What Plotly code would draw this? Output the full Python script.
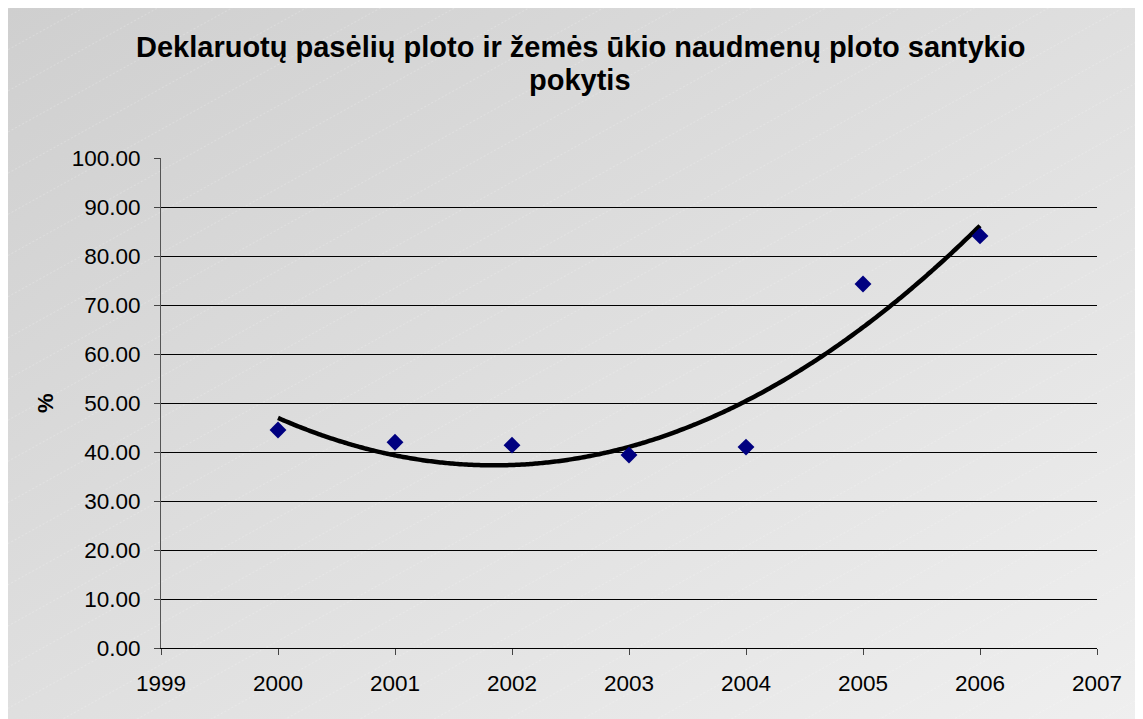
import base64
import numpy as np
import plotly.graph_objects as go

years = [2000, 2001, 2002, 2003, 2004, 2005, 2006]
values = [44.5, 42.0, 41.4, 39.4, 41.0, 74.3, 84.1]
y_ticks = [0, 10, 20, 30, 40, 50, 60, 70, 80, 90, 100]
y_tick_labels = [f"{v:.2f}" for v in y_ticks]
x_ticks = list(range(1999, 2008))
title_line1 = "Deklaruotų pasėlių ploto ir žemės ūkio naudmenų ploto santykio"
title_line2 = "pokytis"
y_title = "%"

# Polynomial (order 2) trendline fitted to the data
coef = np.polyfit(np.array(years) - 2000, values, 2)
tx = np.linspace(2000, 2006, 200)
ty = np.polyval(coef, tx - 2000)

OFF = 8  # default page body margin
W, H = 1143 - OFF, 719 - OFF
L, R, T, B = 161 - OFF, 46, 158 - OFF, 71
pw, ph = W - L - R, H - T - B

def px_x(page_x):
    return (page_x - OFF - L) / pw

def px_y(page_y):
    return (H - B - (page_y - OFF)) / ph

bw, bh = W, H
svg = f'''<svg xmlns="http://www.w3.org/2000/svg" width="{bw}" height="{bh}" viewBox="0 0 {bw} {bh}" preserveAspectRatio="none">
<defs>
<linearGradient id="g" x1="0" y1="0" x2="1" y2="1">
<stop offset="0" stop-color="#cfcfcf"/>
<stop offset="1" stop-color="#efefef"/>
</linearGradient>
<pattern id="p" patternUnits="userSpaceOnUse" width="68" height="36" patternTransform="rotate(-29)">
<line x1="0" y1="0" x2="68" y2="0" stroke="#ffffff" stroke-opacity="0.4" stroke-width="1" stroke-dasharray="2,2"/>
</pattern>
</defs>
<rect width="{bw}" height="{bh}" fill="url(#g)"/>
<rect width="{bw}" height="{bh}" fill="url(#p)"/>
</svg>'''
src = "data:image/svg+xml;base64," + base64.b64encode(svg.encode()).decode()

fig = go.Figure()
fig.add_trace(go.Scatter(x=tx, y=ty, mode="lines",
                         line=dict(color="black", width=4.5, shape="spline"), hoverinfo="skip"))
fig.add_trace(go.Scatter(x=years, y=values, mode="markers",
                         marker=dict(symbol="diamond", size=13, color="#000080")))

font_family = "Liberation Sans, Arial, sans-serif"
title_font = dict(size=29, family=font_family, color="black")
fig.update_layout(
    width=W, height=H,
    margin=dict(l=L, r=R, t=T, b=B),
    paper_bgcolor="white",
    plot_bgcolor="rgba(0,0,0,0)",
    showlegend=False,
    font=dict(family=font_family, size=22.5, color="black"),
    images=[dict(source=src, xref="paper", yref="paper",
                 x=-L / pw, y=(H - B) / ph,
                 sizex=bw / pw, sizey=bh / ph,
                 xanchor="left", yanchor="top", sizing="stretch", layer="below")],
    annotations=[
        dict(text="<b>" + title_line1 + "</b>", xref="paper", yref="paper",
             x=px_x(580), y=px_y(47), xanchor="center", yanchor="middle",
             showarrow=False, font=title_font),
        dict(text="<b>" + title_line2 + "</b>", xref="paper", yref="paper",
             x=px_x(580), y=px_y(80), xanchor="center", yanchor="middle",
             showarrow=False, font=title_font),
        dict(text="<b>" + y_title + "</b>", xref="paper", yref="paper",
             x=px_x(45), y=px_y(403), xanchor="center", yanchor="middle",
             textangle=-90, showarrow=False, font=dict(size=22, family=font_family)),
    ],
    xaxis=dict(range=[1999, 2007], tickvals=x_ticks, ticktext=[str(v) for v in x_ticks],
               showgrid=False, zeroline=False, showline=True, linecolor="black", linewidth=1,
               ticks="outside", ticklen=6, tickcolor="#444", ticklabelstandoff=9,
               tickfont=dict(size=22.5)),
    yaxis=dict(range=[0, 100], tickvals=y_ticks, ticktext=y_tick_labels,
               showgrid=True, gridcolor="black", gridwidth=1, zeroline=False,
               showline=True, linecolor="#555", linewidth=1,
               ticks="outside", ticklen=6, tickcolor="#444", ticklabelstandoff=9,
               tickfont=dict(size=22.5)),
)

fig.write_html("out.html")
